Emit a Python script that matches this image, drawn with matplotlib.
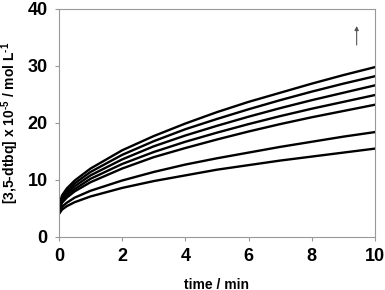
import matplotlib
matplotlib.use('Agg')
import matplotlib.pyplot as plt

plt.rcParams['font.family'] = ['Liberation Sans', 'DejaVu Sans']
plt.rcParams['font.weight'] = 'bold'
plt.rcParams['mathtext.default'] = 'regular'

# time / min
t = [0, 0.1, 0.25, 0.5, 1, 2, 3, 4, 5, 6, 7, 8, 9, 10]

# [3,5-dtbq] x 10^-5 / mol L^-1, top curve first
c1 = [5.5, 7.3, 8.5, 9.9, 12.0, 15.2, 17.7, 19.9, 21.9, 23.7, 25.3, 26.9, 28.4, 29.8]
c2 = [5.2, 6.9, 8.0, 9.4, 11.4, 14.4, 16.8, 18.9, 20.7, 22.4, 24.0, 25.5, 26.9, 28.2]
c3 = [5.0, 6.6, 7.6, 8.9, 10.8, 13.6, 15.9, 17.8, 19.5, 21.1, 22.6, 24.0, 25.3, 26.6]
c4 = [4.8, 6.3, 7.3, 8.4, 10.2, 12.8, 14.9, 16.7, 18.3, 19.8, 21.2, 22.5, 23.7, 24.9]
c5 = [4.6, 6.0, 6.9, 8.0, 9.6, 12.0, 14.0, 15.6, 17.1, 18.5, 19.8, 21.0, 22.1, 23.2]
c6 = [4.3, 5.3, 6.0, 6.9, 8.1, 9.9, 11.4, 12.7, 13.8, 14.8, 15.8, 16.7, 17.6, 18.4]
c7 = [4.0, 4.8, 5.4, 6.1, 7.1, 8.6, 9.8, 10.8, 11.8, 12.6, 13.4, 14.1, 14.8, 15.5]
curves = [c1, c2, c3, c4, c5, c6, c7]

fig = plt.figure(figsize=(3.85, 2.9), dpi=100)
ax = fig.add_axes([0.153, 0.183, 0.821, 0.786])

for c in curves:
    ax.plot(t, c, color='black', lw=1.7)

# arrow showing the trend
ax.annotate('', xy=(9.42, 37.5), xytext=(9.42, 33.2),
            arrowprops=dict(arrowstyle='-|>', color='#555555', lw=0.8,
                            mutation_scale=6))

ax.set_xlim(0, 10)
ax.set_ylim(0, 40)
ax.set_xticks([0, 2, 4, 6, 8, 10])
ax.set_yticks([0, 10, 20, 30, 40])

for s in ax.spines.values():
    s.set_color('#999999')
    s.set_linewidth(0.8)
ax.tick_params(direction='out', length=3, width=0.8, color='#999999',
               labelsize=13, pad=5)
for lab in ax.get_xticklabels() + ax.get_yticklabels():
    lab.set_fontweight('bold')

ax.set_xlabel('time / min', fontsize=10, fontweight='bold', labelpad=9)
# hyphen (U+2010) in the exponents, like the original label
ax.set_ylabel('[3,5-dtbq] x 10$^{\u20105}$ / mol L$^{\u20101}$',
              fontsize=10, fontweight='bold', labelpad=5)

fig.savefig('out.png', dpi=100)
